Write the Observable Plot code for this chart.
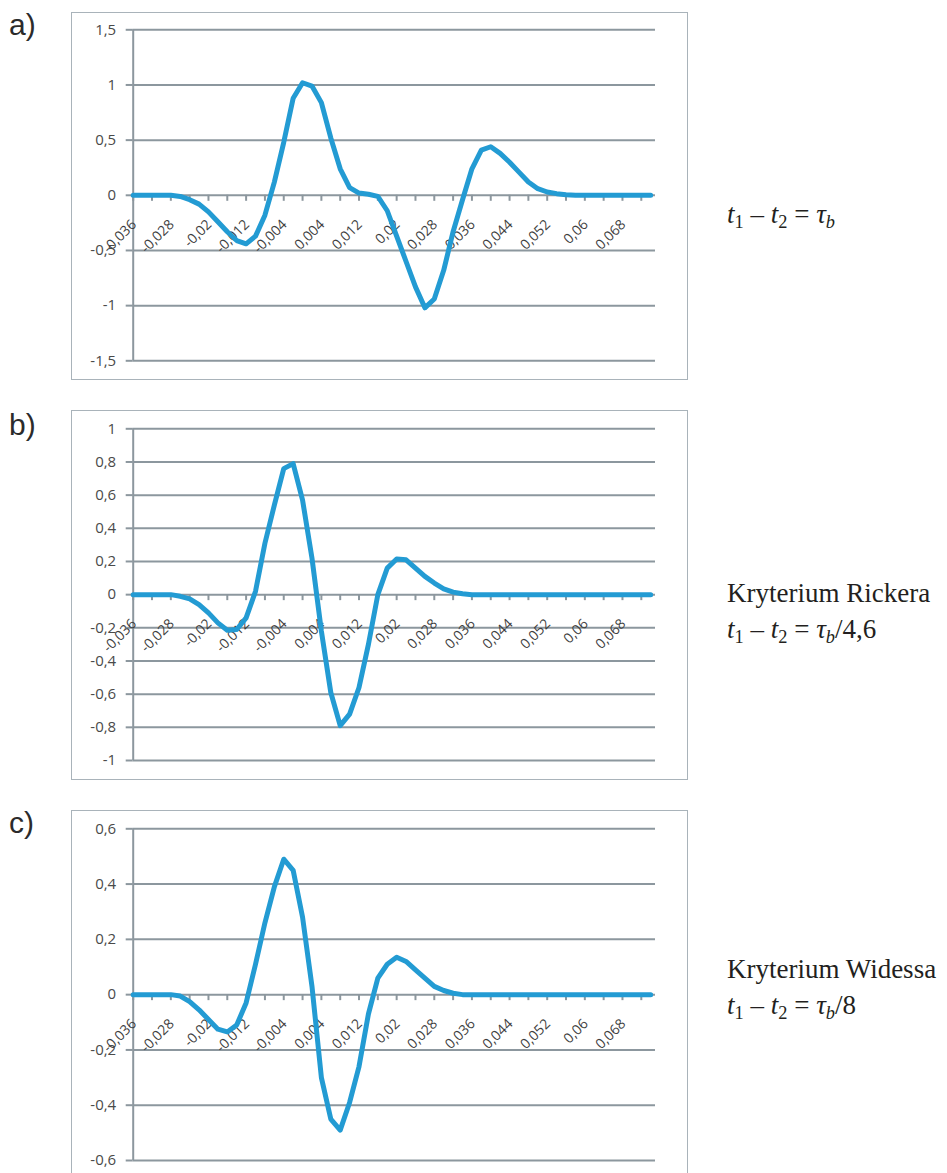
<!DOCTYPE html>
<html><head><meta charset="utf-8">
<script src="https://cdn.jsdelivr.net/npm/d3@7"></script>
<script src="https://cdn.jsdelivr.net/npm/@observablehq/plot@0.6"></script>
<style>
body{margin:0;background:#fff;}
#wrap{position:relative;width:947px;height:1173px;overflow:hidden;background:#fff;}
.frame{position:absolute;box-sizing:border-box;border:1.5px solid #a9b3ba;pointer-events:none;}
.tag{position:absolute;left:9px;font-family:"Liberation Sans",Arial,sans-serif;font-size:30px;line-height:34px;color:#2b2b2b;}
.note{position:absolute;left:727px;font-family:"Liberation Serif","Times New Roman",serif;font-size:27px;line-height:36px;color:#231f20;white-space:nowrap;}
.sb{font-size:0.68em;position:relative;top:0.28em;}
</style></head><body><div id="wrap"></div>
<script>
// categories (time, s)
const times = [-0.036,-0.034,-0.032,-0.030,-0.028,-0.026,-0.024,-0.022,-0.020,-0.018,-0.016,-0.014,-0.012,-0.010,-0.008,-0.006,-0.004,-0.002,0.000,0.002,0.004,0.006,0.008,0.010,0.012,0.014,0.016,0.018,0.020,0.022,0.024,0.026,0.028,0.030,0.032,0.034,0.036,0.038,0.040,0.042,0.044,0.046,0.048,0.050,0.052,0.054,0.056,0.058,0.060,0.062,0.064,0.066,0.068,0.070,0.072,0.074];
// series a) t1 - t2 = tau_b
const seriesA = [0,0,0,0,0,-0.01,-0.04,-0.08,-0.15,-0.24,-0.33,-0.41,-0.44,-0.37,-0.18,0.12,0.48,0.88,1.02,0.99,0.84,0.52,0.24,0.07,0.02,0.01,-0.01,-0.14,-0.37,-0.60,-0.83,-1.02,-0.94,-0.68,-0.33,-0.04,0.24,0.41,0.44,0.38,0.30,0.21,0.12,0.06,0.03,0.015,0.005,0,0,0,0,0,0,0,0,0];
// series b) Ricker
const seriesB = [0,0,0,0,0,-0.01,-0.025,-0.06,-0.11,-0.17,-0.215,-0.21,-0.14,0.02,0.31,0.54,0.76,0.79,0.57,0.22,-0.22,-0.59,-0.79,-0.72,-0.56,-0.30,0.0,0.16,0.215,0.21,0.16,0.11,0.07,0.035,0.015,0.005,0,0,0,0,0,0,0,0,0,0,0,0,0,0,0,0,0,0,0,0];
// series c) Widess
const seriesC = [0,0,0,0,0,-0.005,-0.025,-0.055,-0.09,-0.125,-0.135,-0.11,-0.03,0.11,0.26,0.39,0.49,0.45,0.28,0.03,-0.30,-0.45,-0.49,-0.39,-0.26,-0.07,0.06,0.11,0.135,0.12,0.09,0.06,0.03,0.015,0.005,0,0,0,0,0,0,0,0,0,0,0,0,0,0,0,0,0,0,0,0,0];
// tick labels
const xLabels = ["-0,036","-0,028","-0,02","-0,012","-0,004","0,004","0,012","0,02","0,028","0,036","0,044","0,052","0,06","0,068"];
const yTicksA = [-1.5,-1,-0.5,0,0.5,1,1.5];
const yTicksB = [-1,-0.8,-0.6,-0.4,-0.2,0,0.2,0.4,0.6,0.8,1];
const yTicksC = [-0.6,-0.4,-0.2,0,0.2,0.4,0.6];

const GRID = "#8c979e";
const BLUE = "#239bd3";
const xTicks = times.filter((_, i) => i % 2 === 0);
const parseLab = s => parseFloat(s.replace(",", "."));
const fmtY = d => String(Math.round(d * 10) / 10).replace(".", ",");

const wrap = document.getElementById("wrap");

function panel(values, ticks, top, height, mt, mb) {
  const data = times.map((t, i) => ({t, v: values[i]}));
  const svg = Plot.plot({
    width: 700, height,
    marginLeft: 132.7, marginRight: 45, marginTop: mt, marginBottom: mb,
    style: {fontFamily: "'Open Sans', sans-serif", fontSize: "15px", color: "#505050", background: "transparent", overflow: "visible"},
    x: {domain: [times[0], times[times.length - 1]], range: [132.7, 650.2], axis: null},
    y: {domain: [ticks[0], ticks[ticks.length - 1]], axis: null},
    marks: [
      Plot.ruleY(ticks, {stroke: GRID, strokeWidth: 2}),
      Plot.axisY({ticks, tickFormat: fmtY, tickSize: 7, tickPadding: 10, label: null, stroke: GRID, strokeWidth: 2, fill: "#4a4a4a", fontSize: 15}),
      Plot.ruleX([times[0]], {stroke: GRID, strokeWidth: 2}),
      Plot.ruleX(xTicks, {x: d => d, y1: () => 0, y2: () => 0, insetBottom: -6, stroke: GRID, strokeWidth: 2}),
      Plot.text(xLabels, {x: d => parseLab(d), y: () => 0, text: d => d, rotate: -45, textAnchor: "end", lineAnchor: "bottom", dx: 4, dy: 30, fontSize: 14, fill: "#3f3f3f"}),
      Plot.line(data, {x: "t", y: "v", stroke: BLUE, strokeWidth: 5, strokeLinejoin: "round", strokeLinecap: "round"})
    ]
  });
  svg.style.position = "absolute";
  svg.style.left = "0px";
  svg.style.top = top + "px";
  wrap.appendChild(svg);
}

panel(seriesA, yTicksA, 0, 385, 29.3, 24.7);
panel(seriesB, yTicksB, 390, 390, 38.3, 20);
panel(seriesC, yTicksC, 790, 383, 38.3, 13);

function addFrame(top, h) {
  const d = document.createElement("div");
  d.className = "frame";
  d.style.left = "71px"; d.style.top = top + "px";
  d.style.width = "616.5px"; d.style.height = h + "px";
  wrap.appendChild(d);
}
addFrame(11.7, 368.5);
addFrame(410, 370);
addFrame(810, 420);

function addHTML(cls, top, html) {
  const d = document.createElement("div");
  d.className = cls;
  d.style.top = top + "px";
  d.innerHTML = html;
  wrap.appendChild(d);
}
addHTML("tag", 7.6, "a)");
addHTML("tag", 407.6, "b)");
addHTML("tag", 805.6, "c)");
const eq = tail => "<i>t</i><span class='sb'>1</span> – <i>t</i><span class='sb'>2</span> = <i>τ</i><span class='sb'><i>b</i></span>" + tail;
addHTML("note", 196.2, eq(""));
addHTML("note", 574.6, "Kryterium Rickera<br>" + eq("/4,6"));
addHTML("note", 951.2, "Kryterium Widessa<br>" + eq("/8"));
</script>
</body></html>
